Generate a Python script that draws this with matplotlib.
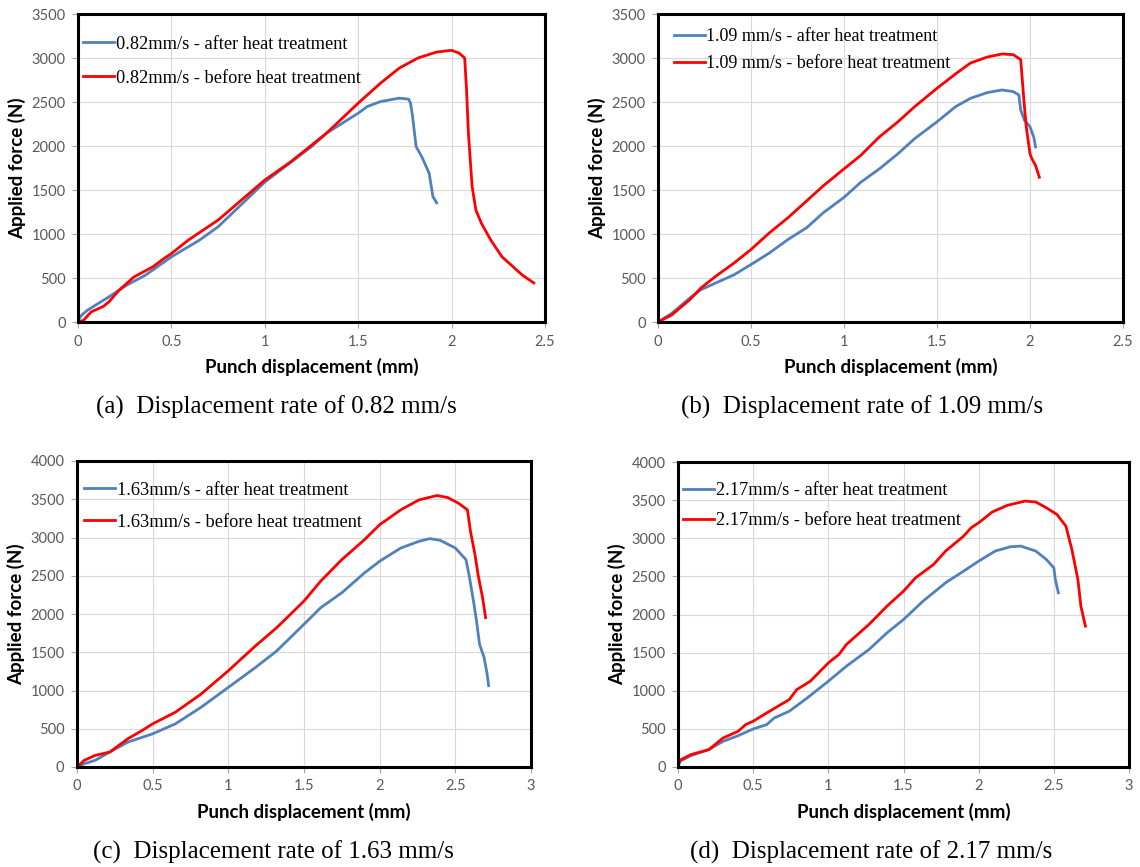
import numpy as np
from matplotlib import pyplot as plt

# (a) 0.82 mm/s
dispA_after = [0, 0.02, 0.05, 0.107, 0.165, 0.26, 0.36, 0.5, 0.65, 0.75, 1.0, 1.25, 1.33, 1.5,
               1.55, 1.62, 1.72, 1.77, 1.78, 1.79, 1.81, 1.84, 1.88, 1.90, 1.92]
forceA_after = [20, 80, 133, 209, 285, 418, 531, 740, 930, 1082, 1590, 1993, 2145, 2373,
                2450, 2505, 2544, 2532, 2487, 2354, 1993, 1880, 1690, 1424, 1355]
dispA_before = [0, 0.03, 0.07, 0.136, 0.165, 0.22, 0.30, 0.40, 0.46, 0.5, 0.59, 0.75, 1.0, 1.14,
                1.33, 1.5, 1.62, 1.72, 1.82, 1.92, 2.0, 2.04, 2.07, 2.08, 2.09, 2.10, 2.11,
                2.13, 2.16, 2.21, 2.27, 2.33, 2.38, 2.44]
forceA_before = [0, 20, 114, 178, 228, 361, 513, 626, 721, 778, 930, 1158, 1613, 1822,
                 2145, 2487, 2715, 2885, 3000, 3068, 3087, 3056, 3000, 2638, 2145, 1841, 1538,
                 1272, 1120, 930, 740, 626, 531, 444]

# (b) 1.09 mm/s
dispB_after = [0, 0.074, 0.17, 0.23, 0.31, 0.41, 0.5, 0.60, 0.70, 0.80, 0.89, 1.0, 1.09, 1.19,
               1.29, 1.38, 1.5, 1.6, 1.68, 1.77, 1.85, 1.91, 1.94, 1.95, 1.97, 2.0, 2.02, 2.03]
forceB_after = [0, 99, 271, 366, 443, 538, 653, 786, 939, 1073, 1244, 1416, 1588, 1740,
                1912, 2084, 2275, 2447, 2542, 2607, 2637, 2618, 2580, 2408, 2294, 2218, 2103, 1989]
dispB_before = [0, 0.074, 0.17, 0.23, 0.31, 0.41, 0.5, 0.60, 0.70, 0.80, 0.89, 1.0, 1.09, 1.19,
                1.29, 1.38, 1.5, 1.6, 1.68, 1.77, 1.85, 1.91, 1.95, 1.96, 1.97, 1.98, 1.99,
                2.0, 2.01, 2.03, 2.05]
forceB_before = [0, 80, 252, 385, 519, 672, 824, 1015, 1187, 1378, 1550, 1740, 1893, 2103,
                 2275, 2447, 2656, 2820, 2943, 3011, 3046, 3038, 2981, 2714, 2447, 2218, 2065,
                 1912, 1855, 1779, 1645]

# (c) 1.63 mm/s
dispC_after = [0, 0.048, 0.12, 0.216, 0.336, 0.5, 0.65, 0.82, 1.0, 1.18, 1.32, 1.5, 1.61, 1.75,
               1.9, 2.0, 2.14, 2.26, 2.33, 2.4, 2.5, 2.57, 2.59, 2.62, 2.64, 2.66, 2.69, 2.71, 2.72]
forceC_after = [0, 43, 87, 195, 325, 434, 564, 781, 1041, 1302, 1518, 1866, 2082, 2278,
                2538, 2690, 2863, 2950, 2985, 2963, 2863, 2711, 2516, 2169, 1909, 1605, 1432, 1215, 1063]
dispC_before = [0, 0.048, 0.12, 0.216, 0.336, 0.43, 0.5, 0.65, 0.82, 1.0, 1.18, 1.32, 1.5, 1.61,
                1.75, 1.9, 2.0, 2.14, 2.26, 2.38, 2.45, 2.52, 2.58, 2.6, 2.63, 2.65, 2.68, 2.7]
forceC_before = [0, 87, 152, 195, 369, 477, 564, 716, 954, 1258, 1584, 1822, 2169, 2429,
                 2711, 2972, 3167, 3362, 3492, 3549, 3522, 3449, 3362, 3080, 2777, 2516, 2213, 1952]

# (d) 2.17 mm/s
dispD_after = [0, 0.012, 0.085, 0.205, 0.30, 0.40, 0.5, 0.59, 0.64, 0.74, 0.86, 1.0, 1.12, 1.27,
               1.39, 1.5, 1.63, 1.78, 1.9, 2.0, 2.11, 2.21, 2.28, 2.38, 2.45, 2.5, 2.51, 2.53]
forceD_after = [0, 74, 149, 228, 337, 411, 499, 556, 643, 731, 906, 1125, 1322, 1540,
                1759, 1934, 2175, 2416, 2569, 2700, 2832, 2888, 2897, 2832, 2722, 2613, 2460, 2284]
dispD_before = [0, 0.012, 0.085, 0.205, 0.30, 0.40, 0.45, 0.5, 0.59, 0.74, 0.79, 0.88, 1.0, 1.07,
                1.12, 1.27, 1.39, 1.5, 1.58, 1.70, 1.78, 1.9, 1.95, 2.0, 2.09, 2.19, 2.31, 2.38,
                2.45, 2.52, 2.58, 2.62, 2.66, 2.68, 2.71]
forceD_before = [0, 88, 162, 228, 381, 468, 556, 600, 709, 884, 1015, 1125, 1365, 1475,
                 1606, 1869, 2109, 2306, 2481, 2656, 2832, 3028, 3138, 3203, 3344, 3431, 3488, 3475,
                 3400, 3313, 3160, 2853, 2460, 2109, 1847]

rates = ["0.82mm/s", "1.09 mm/s", "1.63mm/s", "2.17mm/s"]
captions = ["(a)  Displacement rate of 0.82 mm/s", "(b)  Displacement rate of 1.09 mm/s",
            "(c)  Displacement rate of 1.63 mm/s", "(d)  Displacement rate of 2.17 mm/s"]
xMaxes = [2.5, 2.5, 3, 3]
yMaxes = [3500, 3500, 4000, 4000]

W, H = 1140, 867
BLUE = "#4F81BD"
RED = "#FF0000"


def pxRect(left, top, right, bottom):
    return [left / W, 1 - bottom / H, (right - left) / W, (bottom - top) / H]


def drawPanel(fig, rect, after, before, rate, xMax, yMax, legAnchor, legSpacing, legSize):
    ax = fig.add_axes(rect)
    ax.plot(after[0], after[1], color=BLUE, lw=2.0, label=rate + " - after heat treatment")
    ax.plot(before[0], before[1], color=RED, lw=2.0, label=rate + " - before heat treatment")

    ax.set_xlim(0, xMax)
    ax.set_ylim(0, yMax)
    ax.set_xticks(np.arange(0, xMax + 0.01, 0.5))
    ax.set_xticklabels(["%g" % v for v in np.arange(0, xMax + 0.01, 0.5)])
    ax.set_yticks(np.arange(0, yMax + 1, 500))
    ax.grid(True, color="#D9D9D9", lw=0.8)
    ax.set_axisbelow(True)

    for s in ax.spines.values():
        s.set_linewidth(2.2)
        s.set_color("black")
    ax.tick_params(direction="out", length=4, width=0.8, color="#A6A6A6",
                   labelcolor="#595959", labelsize=10.5, pad=5)
    for lab in ax.get_xticklabels() + ax.get_yticklabels():
        lab.set_family("Lato")

    ax.set_xlabel("Punch displacement (mm)", family="Lato", weight="bold", fontsize=13.5, labelpad=7)
    ax.set_ylabel("Applied force (N)", family="Lato", weight="bold", fontsize=13.5, labelpad=4)

    ax.legend(loc="upper left", bbox_to_anchor=legAnchor, frameon=False,
              handlelength=1.7, handletextpad=0.1, borderaxespad=0, borderpad=0,
              labelspacing=legSpacing, prop={"family": "Liberation Serif", "size": legSize})
    return ax


fig = plt.figure(figsize=(11.4, 8.67), dpi=100)

drawPanel(fig, pxRect(78, 14, 545, 322), (dispA_after, forceA_after), (dispA_before, forceA_before),
          rates[0], xMaxes[0], yMaxes[0], (0.011, 0.929), 0.92, 13.2)
drawPanel(fig, pxRect(658, 14, 1123, 322), (dispB_after, forceB_after), (dispB_before, forceB_before),
          rates[1], xMaxes[1], yMaxes[1], (0.034, 0.953), 0.55, 13)
drawPanel(fig, pxRect(77, 461, 531, 767), (dispC_after, forceC_after), (dispC_before, forceC_before),
          rates[2], xMaxes[2], yMaxes[2], (0.015, 0.933), 0.82, 13.2)
drawPanel(fig, pxRect(678, 462, 1129, 767), (dispD_after, forceD_after), (dispD_before, forceD_before),
          rates[3], xMaxes[3], yMaxes[3], (0.011, 0.933), 0.71, 13.2)

# sub-figure captions
capPos = [(276, 407), (862, 407), (273, 852), (871, 852)]
for (cx, cy), cap in zip(capPos, captions):
    fig.text(cx / W, 1 - cy / H, cap, ha="center", va="center",
             family="Liberation Serif", fontsize=18)

fig.savefig("out.png", dpi=100)
